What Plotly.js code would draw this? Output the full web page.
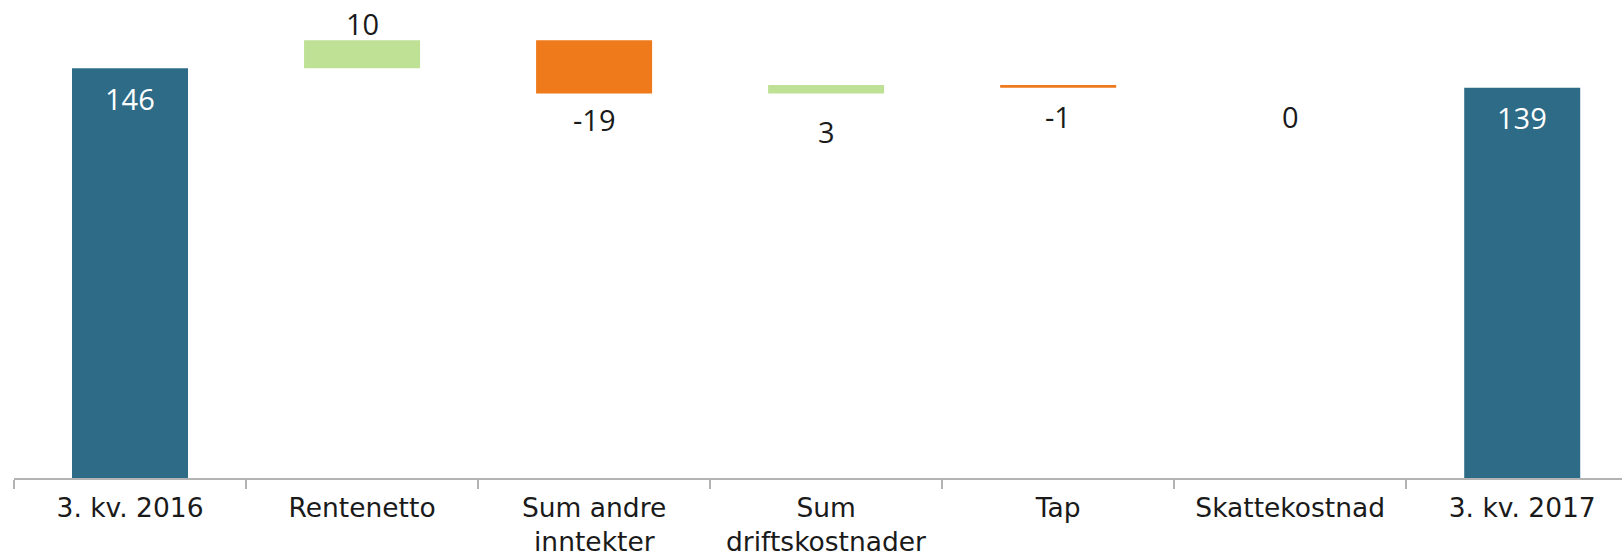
<!DOCTYPE html>
<html>
<head>
<meta charset="utf-8">
<script src="https://cdn.plot.ly/plotly-3.0.1.min.js"></script>
<style>html,body{margin:0;padding:0;background:#fff;}#chart{width:1622px;height:558px;}</style>
</head>
<body>
<div id="chart"></div>
<script>
// ---- data ----
const categories = ['3. kv. 2016', 'Rentenetto', 'Sum andre<br>inntekter', 'Sum<br>driftskostnader', 'Tap', 'Skattekostnad', '3. kv. 2017'];
const values = [146, 10, -19, 3, -1, 0, 139];
const measures = ['absolute', 'relative', 'relative', 'relative', 'relative', 'relative', 'total'];
const labels = ['146', '10', '-19', '3', '-1', '0', '139'];

// ---- styles ----
const colTotal = '#2e6b87';
const colUp = '#bee196';
const colDown = '#ef7a1b';
const tickFont = {family: 'DejaVu Sans, Verdana, sans-serif', size: 26.5, color: '#1a1a1a'};
// label placement: edge of bar ('top'/'bottom') and pixel offset
const labelEdge = ['top', 'top', 'bottom', 'bottom', 'bottom', 'bottom', 'top'];
const labelShift = [-30, 17, -26, -38, -29, -29, -30];
const labelColor = ['#ffffff', '#1a1a1a', '#1a1a1a', '#1a1a1a', '#1a1a1a', '#1a1a1a', '#ffffff'];

// compute bar edges from data
let running = 0;
const annotations = [];
values.forEach((v, i) => {
  let lo, hi;
  if (measures[i] === 'absolute') { running = v; lo = 0; hi = v; }
  else if (measures[i] === 'total') { lo = 0; hi = running; }
  else { const s = running; running += v; lo = Math.min(s, running); hi = Math.max(s, running); }
  annotations.push({
    x: categories[i], y: labelEdge[i] === 'top' ? hi : lo,
    xref: 'x', yref: 'y', text: labels[i], showarrow: false,
    yanchor: 'middle', yshift: labelShift[i],
    font: {family: 'Open Sans, sans-serif', size: 29, color: labelColor[i]}
  });
});

// category labels: first line as tick text, further lines as tighter-spaced annotations
const firstLines = categories.map(c => c.split('<br>')[0]);
categories.forEach(c => {
  const parts = c.split('<br>');
  if (parts.length > 1) {
    annotations.push({
      x: c, y: 0, xref: 'x', yref: 'paper', text: parts.slice(1).join(' '),
      showarrow: false, yanchor: 'bottom', yshift: -80, borderpad: 0, font: tickFont
    });
  }
});

const trace = {
  type: 'waterfall',
  x: categories,
  y: values,
  measure: measures,
  textposition: 'none',
  connector: {visible: false},
  increasing: {marker: {color: colUp}},
  decreasing: {marker: {color: colDown}},
  totals: {marker: {color: colTotal}},
  hoverinfo: 'none'
};

const layout = {
  width: 1622, height: 558,
  margin: {l: 14, r: 0, t: 0, b: 80},
  paper_bgcolor: '#ffffff', plot_bgcolor: '#ffffff',
  showlegend: false,
  waterfallgap: 0.5,
  xaxis: {
    type: 'category',
    range: [-0.5, 6.43],
    tickvals: categories, ticktext: firstLines,
    showline: true, linecolor: '#b3b3b3', linewidth: 1.5,
    ticks: 'outside', ticklen: 9, tickcolor: '#b3b3b3', tickwidth: 1.5,
    tickson: 'boundaries',
    ticklabelstandoff: 6,
    showgrid: false, zeroline: false,
    tickfont: tickFont,
    tickangle: 0
  },
  yaxis: {
    range: [0, 170.3],
    visible: false, showgrid: false, zeroline: false
  },
  annotations: annotations
};

Plotly.newPlot('chart', [trace], layout, {staticPlot: true, displayModeBar: false});
</script>
</body>
</html>
